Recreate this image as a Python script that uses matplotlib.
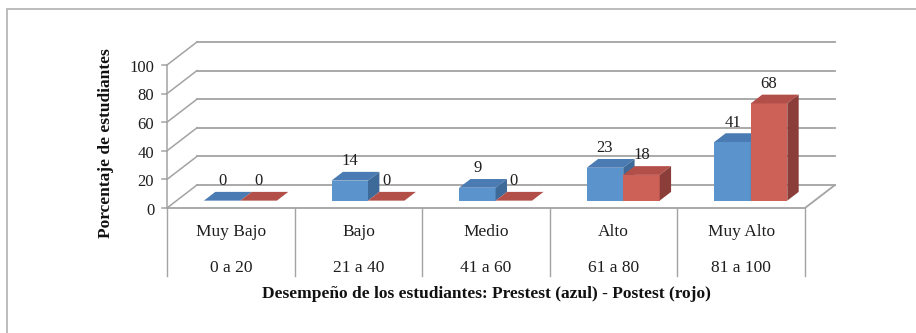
import numpy as np
import matplotlib
matplotlib.use("Agg")
import matplotlib.pyplot as plt
from matplotlib.patches import Polygon, Rectangle

# ─── Veri ─────────────────────────────────────────────────────────────────────
categories = ["Muy Bajo", "Bajo", "Medio", "Alto", "Muy Alto"]
ranges = ["0 a 20", "21 a 40", "41 a 60", "61 a 80", "81 a 100"]
prestest = [0, 14, 9, 23, 41]
postest = [0, 0, 0, 18, 68]
yticks = [0, 20, 40, 60, 80, 100]

# ─── Stil ─────────────────────────────────────────────────────────────────────
FONT = ["Liberation Serif", "DejaVu Serif"]
GRID = "#a3a3a3"
TXT = "#1e1e1e"
BLUE = ("#5b94cc", "#4a7bb2", "#3e6a99")   # front, top, side
RED = ("#cd6158", "#b24f48", "#8b3e39")

DX = 0.235        # depth offset (category units)
DY = 16.1         # depth offset (value units)
F0, F1 = 0.32, 0.70   # bar depth span (fraction of floor depth)
BAR_W = 0.286


def poly(ax, pts, color, z):
    ax.add_patch(Polygon(pts, closed=True, facecolor=color, edgecolor="none",
                         zorder=z, clip_on=False))


def bar3d(ax, x0, v, colors, z):
    front, top, side = colors
    ox0, oy0 = F0 * DX, F0 * DY
    ox1, oy1 = F1 * DX, F1 * DY
    x1 = x0 + BAR_W
    poly(ax, [(x0 + ox0, oy0), (x1 + ox0, oy0), (x1 + ox0, oy0 + v), (x0 + ox0, oy0 + v)], front, z)
    poly(ax, [(x0 + ox0, oy0 + v), (x1 + ox0, oy0 + v), (x1 + ox1, oy1 + v), (x0 + ox1, oy1 + v)], top, z)
    poly(ax, [(x1 + ox0, oy0), (x1 + ox1, oy1), (x1 + ox1, oy1 + v), (x1 + ox0, oy0 + v)], side, z)
    ax.text(x0 + ox0 + BAR_W / 2, v + oy1 + 7.5, f"{v}", ha="center", va="center",
            fontsize=12, family=FONT, color=TXT, zorder=z + 1)


fig = plt.figure(figsize=(9.16, 3.33), dpi=100)
fig.patches.append(Rectangle((7 / 916, -0.1), 1.2, 1 - 9 / 333 + 0.1, transform=fig.transFigure,
                             fill=False, edgecolor="#b0b0b0", linewidth=1.2))

ax = fig.add_axes([167 / 916, 125 / 333, 638 / 916, 143 / 333])
n = len(categories)
ax.set_xlim(0, n)
ax.set_ylim(0, 100)
ax.axis("off")

# back wall gridlines + diagonals + ticks
for t in yticks:
    ax.plot([DX, n + DX], [t + DY, t + DY], color=GRID, lw=1.3, clip_on=False, zorder=1)
    ax.plot([0, DX], [t, t + DY], color=GRID, lw=1.1, clip_on=False, zorder=1)
    ax.plot([-0.04, 0], [t, t], color=GRID, lw=1.1, clip_on=False, zorder=1)
    ax.text(-0.1, t - 2.0, f"{t}", ha="right", va="center", fontsize=12, family=FONT,
            color=TXT)
ax.plot([0, 0], [0, yticks[-1]], color=GRID, lw=1.1, clip_on=False, zorder=1)

# floor
ax.plot([0, n, n + DX], [0, 0, DY], color=GRID, lw=1.3, clip_on=False, zorder=2)

# table below
for i in range(n + 1):
    ax.plot([i, i], [0, -47.6], color=GRID, lw=1.0, clip_on=False, zorder=1)
for i in range(n):
    ax.text(i + 0.5, -17.0, categories[i], ha="center", va="center", fontsize=12.5,
            family=FONT, color=TXT)
    ax.text(i + 0.5, -42.0, ranges[i], ha="center", va="center", fontsize=12.5,
            family=FONT, color=TXT)

# bars
for i in range(n):
    xc = i + 0.5
    bar3d(ax, xc - BAR_W, prestest[i], BLUE, 3 + 2 * i)
    bar3d(ax, xc, postest[i], RED, 4 + 2 * i)

ax.text(n / 2, -60.0, "Desempeño de los estudiantes: Prestest (azul) - Postest (rojo)",
        ha="center", va="center", fontsize=12.5, fontweight="bold", family=FONT, color="#111111")
fig.text(106 / 916, 1 - 143 / 333, "Porcentaje de estudiantes", rotation=90, ha="center",
         va="center", fontsize=12.5, fontweight="bold", family=FONT, color="#111111")

fig.savefig("out.png", dpi=100)
